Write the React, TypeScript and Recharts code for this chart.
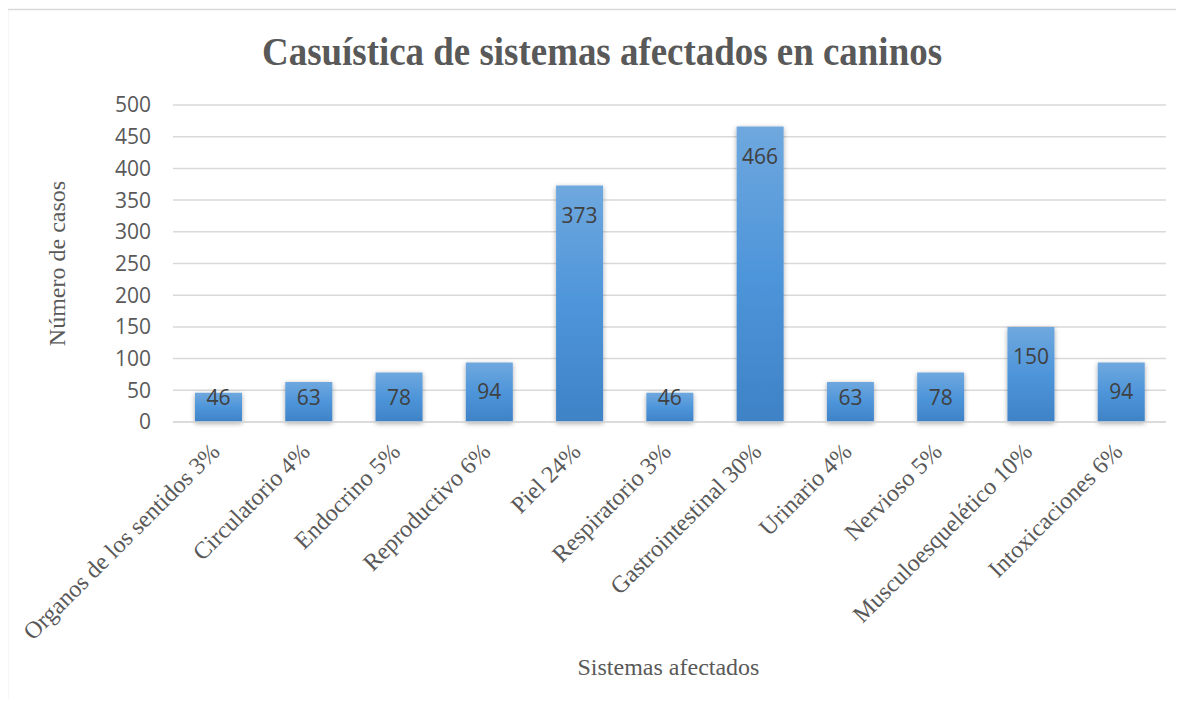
import { Bar, BarChart, CartesianGrid, LabelList, XAxis, YAxis } from "recharts";

const sistemas = [
  "Organos de los sentidos 3%",
  "Circulatorio 4%",
  "Endocrino 5%",
  "Reproductivo 6%",
  "Piel 24%",
  "Respiratorio 3%",
  "Gastrointestinal 30%",
  "Urinario 4%",
  "Nervioso 5%",
  "Musculoesquelético 10%",
  "Intoxicaciones 6%",
];
const casos = [46, 63, 78, 94, 373, 46, 466, 63, 78, 150, 94];
const yTicks = [0, 50, 100, 150, 200, 250, 300, 350, 400, 450, 500];

const data = sistemas.map((sistema, i) => ({ sistema, casos: casos[i] }));

const GREY = "#595959";
const SERIF = "'Liberation Serif', 'Times New Roman', serif";
const SANS = "'Open Sans', Calibri, sans-serif";

const XTick = (props: any) => {
  const { x, y, payload } = props;
  const ax = x + 3;
  const ay = y + 31;
  return (
    <text
      x={ax}
      y={ay}
      transform={`rotate(-45, ${ax}, ${ay})`}
      textAnchor="end"
      fontFamily={SERIF}
      fontSize={24}
      fill={GREY}
    >
      {payload.value}
    </text>
  );
};

const ValueLabel = (props: any) => {
  const { x, y, width, height, value } = props;
  const cy = Math.min(y + 29, y + height - 25);
  return (
    <text
      x={x + width / 2}
      y={cy}
      textAnchor="middle"
      dominantBaseline="central"
      fontFamily={SANS}
      fontSize={21}
      fill="#404040"
    >
      {value}
    </text>
  );
};

const YTitle = (props: any) => {
  const { viewBox } = props;
  const x = viewBox.x - 48;
  const y = viewBox.y + viewBox.height / 2;
  return (
    <text
      x={x}
      y={y}
      transform={`rotate(-90, ${x}, ${y})`}
      textAnchor="middle"
      fontFamily={SERIF}
      fontSize={24}
      fill={GREY}
    >
      Número de casos
    </text>
  );
};

const XTitle = (props: any) => {
  const { viewBox } = props;
  return (
    <text
      x={viewBox.x + viewBox.width / 2 - 1}
      y={viewBox.y + 253}
      textAnchor="middle"
      fontFamily={SERIF}
      fontSize={24}
      fill={GREY}
    >
      Sistemas afectados
    </text>
  );
};

export default function App() {
  return (
    <div
      style={{
        position: "relative",
        width: 1184,
        height: 707,
        margin: -8,
        background: "#fff",
        overflow: "hidden",
      }}
    >
      <BarChart
        width={1184}
        height={707}
        data={data}
        margin={{ top: 105, right: 18, left: 113, bottom: 0 }}
        style={{ position: "absolute", left: 0, top: 0 }}
      >
        <defs>
          <linearGradient id="barFill" x1="0" y1="0" x2="0" y2="1">
            <stop offset="0%" stopColor="#6fa8de" />
            <stop offset="50%" stopColor="#4e95da" />
            <stop offset="100%" stopColor="#3f82c6" />
          </linearGradient>
          <filter id="barShadow" x="-30%" y="-10%" width="160%" height="130%">
            <feDropShadow dx="0" dy="1.5" stdDeviation="2.5" floodColor="#000" floodOpacity="0.35" />
          </filter>
        </defs>
        <CartesianGrid stroke="#d9d9d9" strokeWidth={1.5} vertical={false} />
        <XAxis
          dataKey="sistema"
          interval={0}
          height={285}
          tickLine={false}
          tickSize={0}
          tickMargin={0}
          axisLine={{ stroke: "#d9d9d9", strokeWidth: 1.5 }}
          tick={<XTick />}
          label={<XTitle />}
        />
        <YAxis
          width={60}
          domain={[0, 500]}
          ticks={yTicks}
          interval={0}
          axisLine={false}
          tickLine={false}
          tickSize={0}
          tickMargin={22}
          tick={{ fontFamily: SANS, fontSize: 21, fill: GREY }}
          label={<YTitle />}
        />
        <Bar
          dataKey="casos"
          barSize={47}
          fill="url(#barFill)"
          filter="url(#barShadow)"
          isAnimationActive={false}
        >
          <LabelList dataKey="casos" content={<ValueLabel />} />
        </Bar>
      </BarChart>
      <svg
        width={1184}
        height={707}
        style={{ position: "absolute", left: 0, top: 0, pointerEvents: "none" }}
      >
        {/* borde recortado del área del gráfico */}
        <path d="M7.5 707 L7.5 9.5 L1184 9.5" fill="none" stroke="#d9d9d9" strokeWidth={1.5} />
        <text
          x={602}
          y={65}
          textAnchor="middle"
          fontFamily={SERIF}
          fontWeight="bold"
          fontSize={39}
          fill={GREY}
          textLength={680}
          lengthAdjust="spacingAndGlyphs"
        >
          Casuística de sistemas afectados en caninos
        </text>
      </svg>
    </div>
  );
}
